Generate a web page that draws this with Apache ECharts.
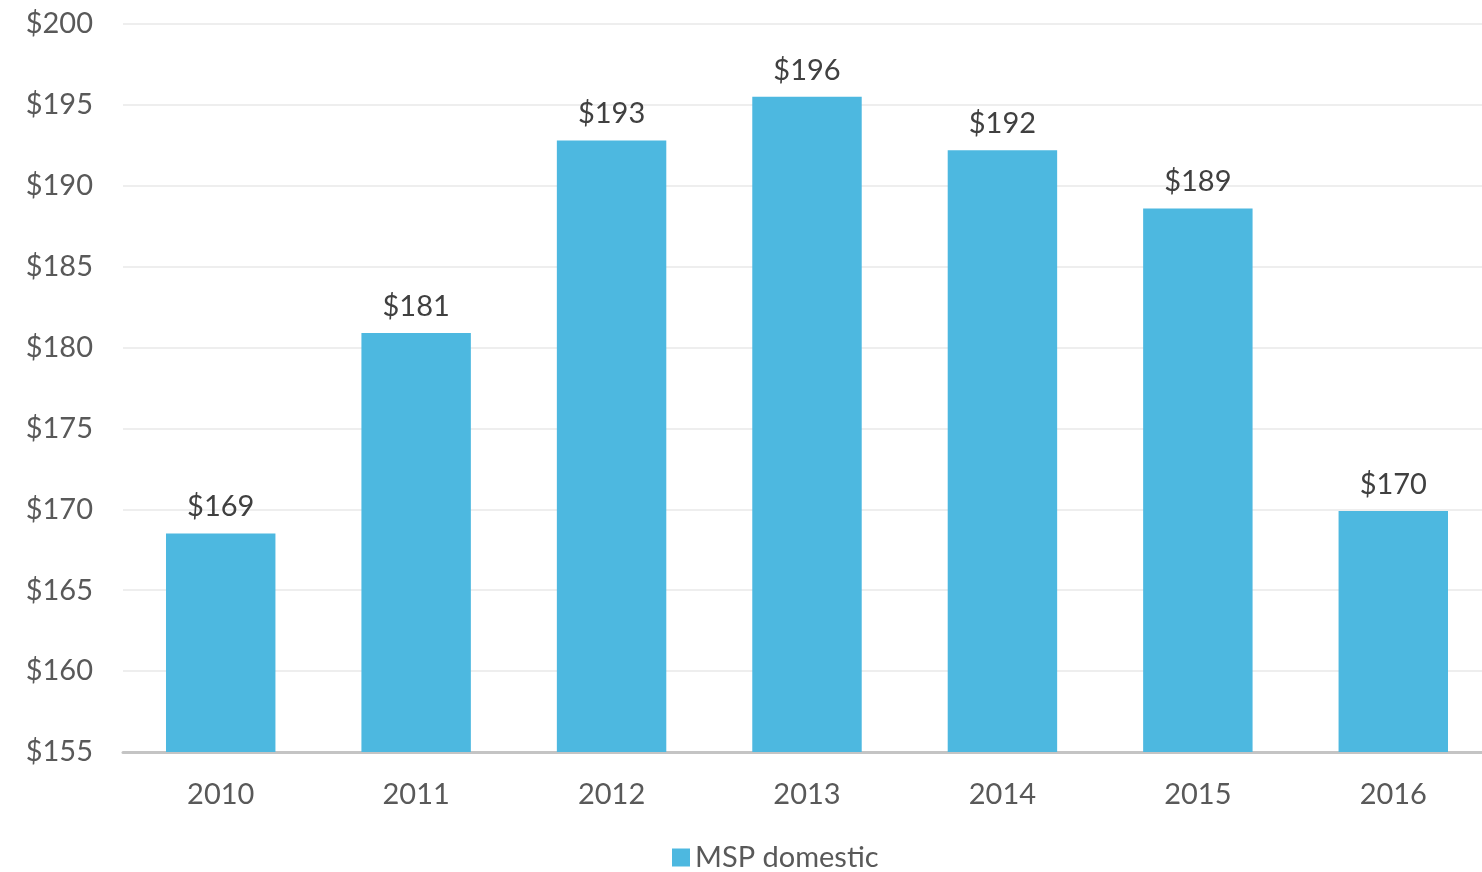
<!DOCTYPE html>
<html>
<head>
<meta charset="utf-8">
<script src="https://cdn.jsdelivr.net/npm/echarts@6/dist/echarts.min.js"></script>
<style>
  html, body { margin: 0; padding: 0; background: #fff; overflow: hidden; }
  /* plot runs a little past the right edge of the picture */
  #main { width: 1491px; height: 872px; }
</style>
</head>
<body>
<div id="main"></div>
<script>
  // data
  var years = ['2010', '2011', '2012', '2013', '2014', '2015', '2016'];
  var mspDomestic = [168.5, 180.9, 192.8, 195.5, 192.2, 188.6, 169.9];
  var yMin = 155, yMax = 200, yStep = 5;

  var font = 'Lato';
  var myChart = echarts.init(document.getElementById('main'));
  var option = {
    animation: false,
    textStyle: { fontFamily: font },
    grid: { left: 123, right: 0, top: 24, bottom: 120 },
    legend: {
      top: 838,
      left: 667,
      itemWidth: 18,
      itemHeight: 18,
      itemGap: 10,
      icon: 'rect',
      textStyle: { fontFamily: font, fontSize: 29, color: '#595959' },
      data: ['MSP domestic']
    },
    xAxis: {
      type: 'category',
      data: years,
      axisLine: { lineStyle: { color: '#c4c4c4', width: 3 } },
      axisTick: { show: false },
      axisLabel: { fontFamily: font, fontSize: 29, color: '#595959', margin: 28 }
    },
    yAxis: {
      type: 'value',
      min: yMin,
      max: yMax,
      interval: yStep,
      axisLine: { show: false },
      axisTick: { show: false },
      splitLine: { lineStyle: { color: '#eeeeee', width: 2 } },
      axisLabel: {
        fontFamily: font, fontSize: 29, color: '#595959', margin: 30,
        formatter: function(v) { return '$' + v; }
      }
    },
    series: [{
      name: 'MSP domestic',
      type: 'bar',
      barWidth: '56%',
      itemStyle: { color: '#4db8e0' },
      label: {
        show: true,
        position: 'top',
        distance: 12,
        fontFamily: font,
        fontSize: 29,
        color: '#404040',
        formatter: function(p) { return '$' + Math.round(p.value); }
      },
      data: mspDomestic
    }]
  };
  myChart.setOption(option);
</script>
</body>
</html>
